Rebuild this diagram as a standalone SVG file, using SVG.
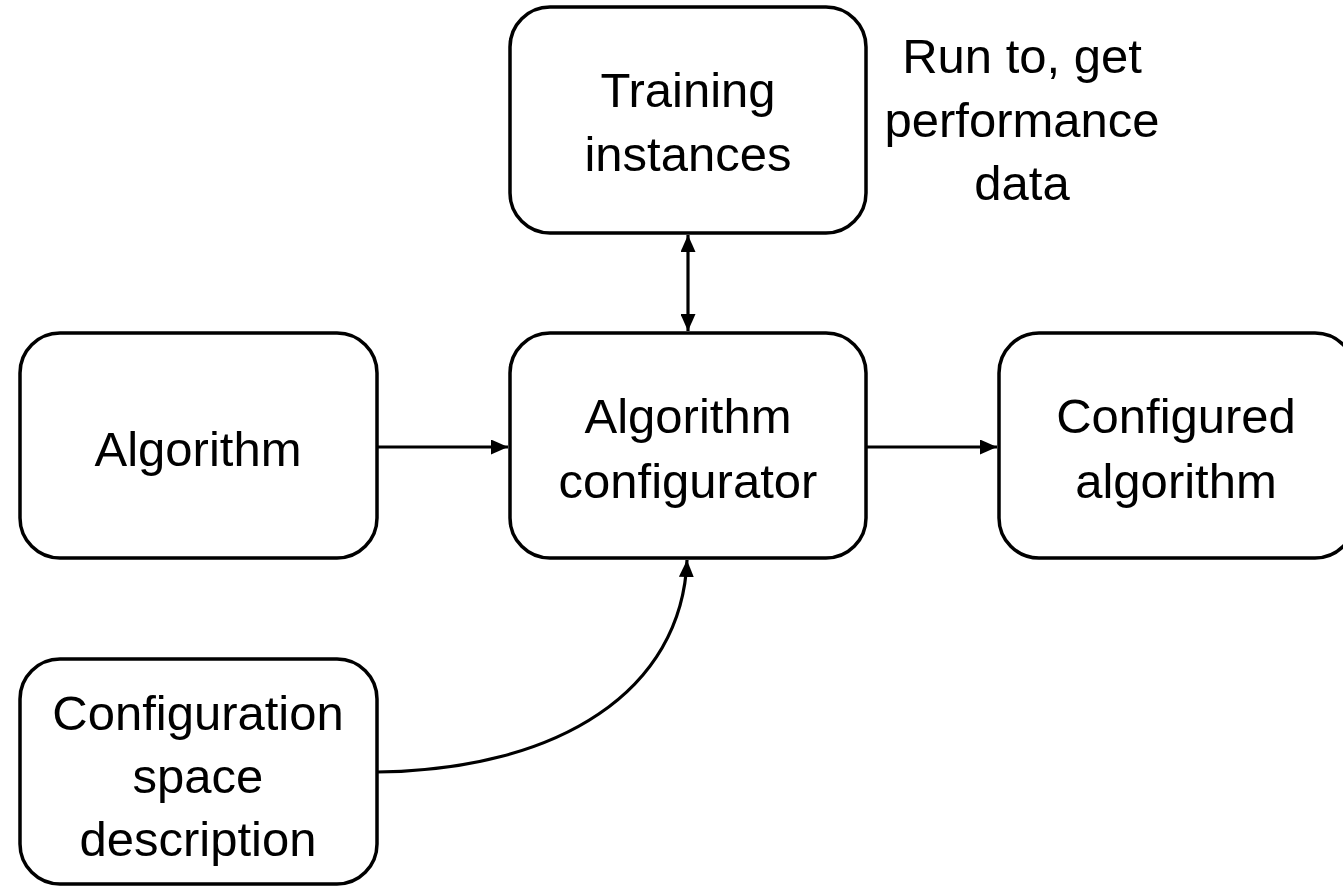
<svg xmlns="http://www.w3.org/2000/svg" width="1343" height="886" viewBox="0 0 1343 886">
<defs>
<style>
.box{fill:#fff;stroke:#000;stroke-width:3.5}
.t{font-family:"Liberation Sans",Arial,sans-serif;font-size:49px;fill:#000;text-anchor:middle}
.c{fill:none;stroke:#000;stroke-width:3.2}
</style>
<marker id="ah" markerUnits="userSpaceOnUse" markerWidth="17" markerHeight="15" viewBox="0 0 17 15" refX="17" refY="7.5" orient="auto-start-reverse">
<path d="M0,0 L17,7.5 L0,15 Z" fill="#000"/>
</marker>
</defs>
<rect width="1343" height="886" fill="#fff"/>
<g id="connectors">
<line class="c" x1="688" y1="235" x2="688" y2="331" marker-start="url(#ah)" marker-end="url(#ah)"/>
<line class="c" x1="377" y1="447" x2="508" y2="447" marker-end="url(#ah)"/>
<line class="c" x1="866" y1="447" x2="997" y2="447" marker-end="url(#ah)"/>
<path class="c" d="M377,772 C560,770 682,690 687,560" marker-end="url(#ah)"/>
</g>
<g id="training">
<rect class="box" x="510" y="7" width="356" height="226" rx="40"/>
<text class="t" x="688" y="107">Training</text>
<text class="t" x="688" y="171">instances</text>
</g>
<g id="note">
<text class="t" x="1022" y="73">Run to, get</text>
<text class="t" x="1022" y="137">performance</text>
<text class="t" x="1022" y="200">data</text>
</g>
<g id="algorithm">
<rect class="box" x="20" y="333" width="357" height="225" rx="40"/>
<text class="t" x="198" y="466">Algorithm</text>
</g>
<g id="configurator">
<rect class="box" x="510" y="333" width="356" height="225" rx="40"/>
<text class="t" x="688" y="433">Algorithm</text>
<text class="t" x="688" y="498">configurator</text>
</g>
<g id="configured">
<rect class="box" x="999" y="333" width="356" height="225" rx="40"/>
<text class="t" x="1176" y="433">Configured</text>
<text class="t" x="1176" y="498">algorithm</text>
</g>
<g id="space">
<rect class="box" x="20" y="659" width="357" height="225" rx="40"/>
<text class="t" x="198" y="730">Configuration</text>
<text class="t" x="198" y="793">space</text>
<text class="t" x="198" y="856">description</text>
</g>
</svg>
